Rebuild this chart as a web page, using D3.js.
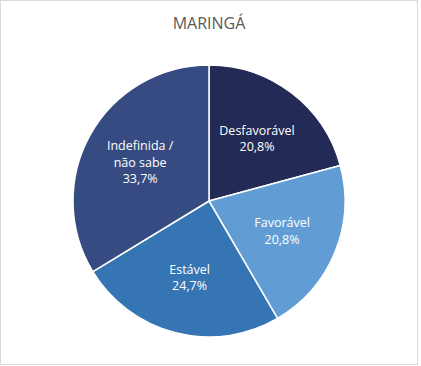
<!DOCTYPE html>
<html><head><meta charset="utf-8">
<script src="https://cdn.jsdelivr.net/npm/d3@7"></script>
<style>html,body{margin:0;padding:0;background:#fff;}</style>
</head><body>
<svg id="c" width="421" height="366"></svg>
<script>
const title = "MARINGÁ";
const categories = ["Desfavorável", "Favorável", "Estável", "Indefinida / não sabe"];
const labelLines = [["Desfavorável"], ["Favorável"], ["Estável"], ["Indefinida /", "não sabe"]];
const values = [20.8, 20.8, 24.7, 33.7];
const colors = ["#232a55", "#619dd4", "#3575b3", "#364b81"];

const svg = d3.select("#c");
svg.append("rect").attr("x", 0.5).attr("y", 0.5).attr("width", 417).attr("height", 364)
  .attr("fill", "#fff").attr("stroke", "#d9d9d9").attr("stroke-width", 1);

svg.append("text").attr("x", 209).attr("y", 29).attr("text-anchor", "middle")
  .attr("font-family", "Open Sans, sans-serif").attr("font-size", 16).attr("fill", "#595959")
  .text(title);

const cx = 209, cy = 201, r = 136;
const g = svg.append("g").attr("transform", `translate(${cx},${cy})`);
const pie = d3.pie().sort(null).value(d => d);
const arcs = pie(values);
const arc = d3.arc().innerRadius(0).outerRadius(r);
const labelArc = d3.arc().innerRadius(79 * 2 - 0).outerRadius(0);

g.selectAll("path").data(arcs).join("path")
  .attr("d", arc).attr("fill", (d, i) => colors[i])
  .attr("stroke", "#fff").attr("stroke-width", 1.5);

const fmt = v => d3.format(".1f")(v).replace(".", ",") + "%";
const lab = d3.arc().innerRadius(79).outerRadius(79);
arcs.forEach((d, i) => {
  const [x, y] = lab.centroid(d);
  const lines = labelLines[i].concat([fmt(values[i])]);
  const lh = 16.5;
  const t = g.append("text").attr("text-anchor", "middle")
    .attr("font-family", "Open Sans, sans-serif").attr("font-size", 12.5).attr("fill", "#fff");
  lines.forEach((l, k) => {
    t.append("tspan").attr("x", x).attr("y", y + (k - (lines.length - 1) / 2) * lh + 4.5).text(l);
  });
});
</script>
</body></html>
